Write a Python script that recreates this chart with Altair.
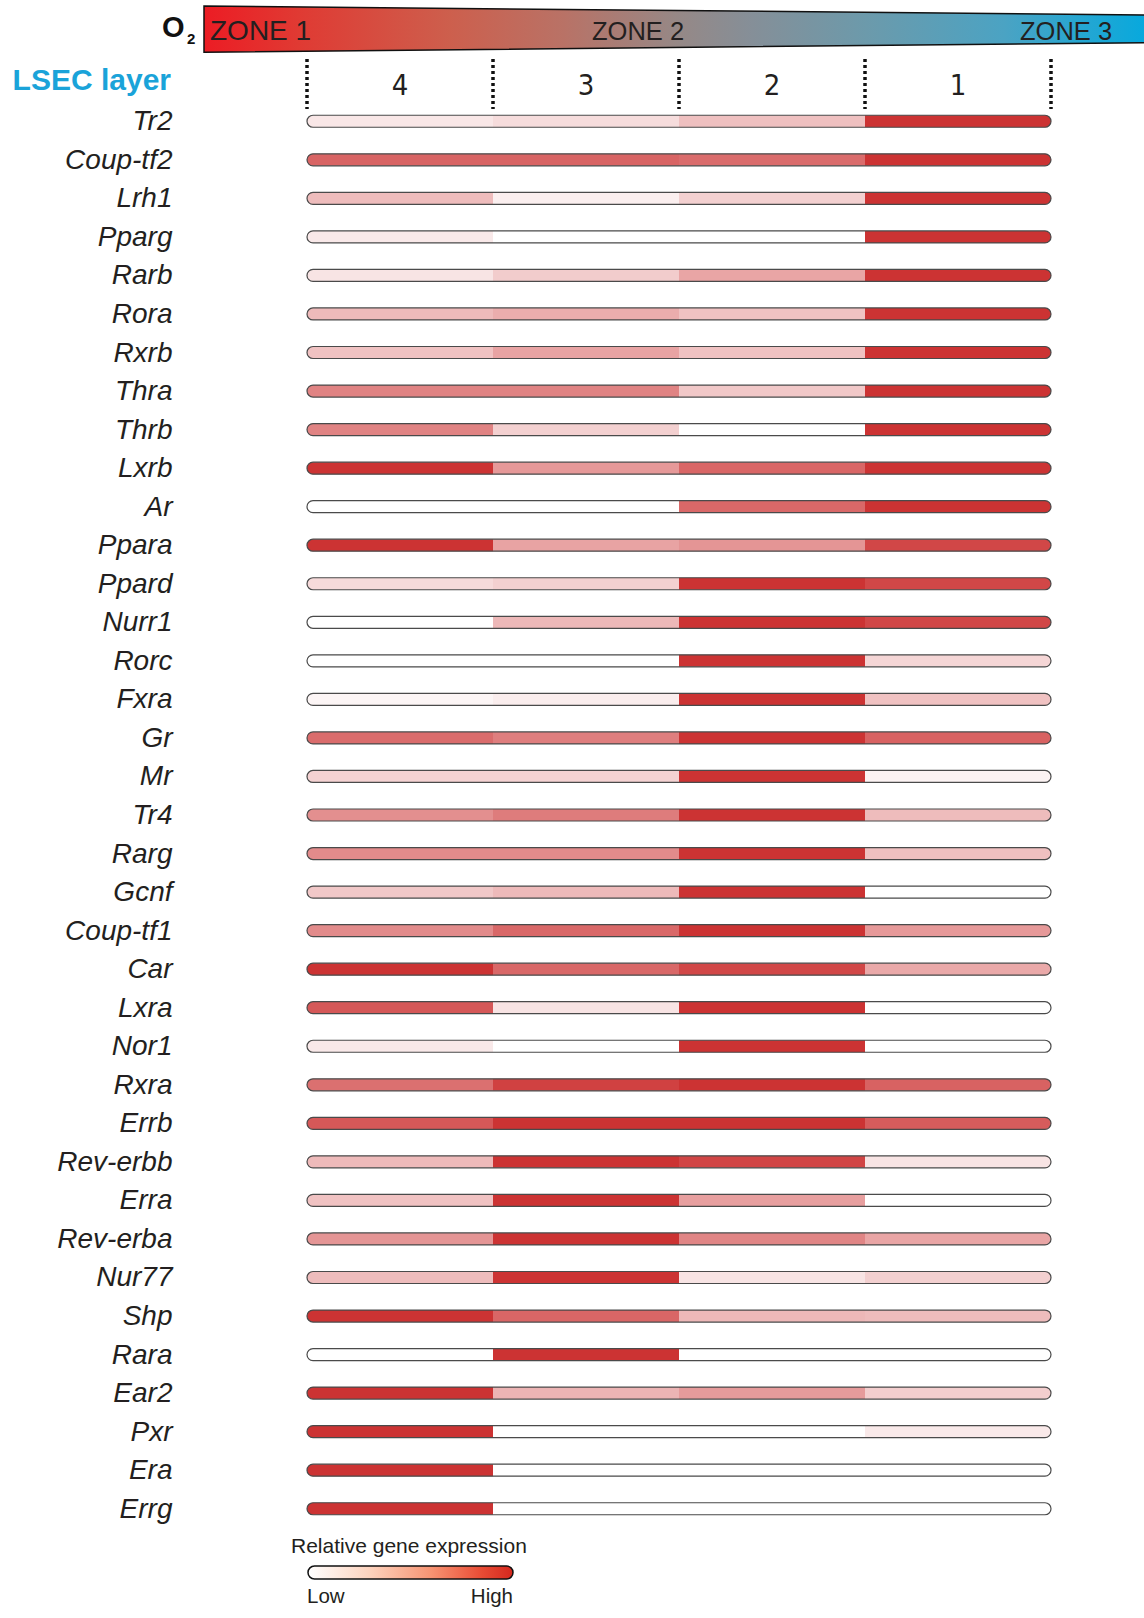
import altair as alt
import pandas as pd

# Nuclear receptor expression across LSEC layers (layer 4 at the portal side, layer 1 central)
genes = ["Tr2", "Coup-tf2", "Lrh1", "Pparg", "Rarb", "Rora", "Rxrb", "Thra", "Thrb",
         "Lxrb", "Ar", "Ppara", "Ppard", "Nurr1", "Rorc", "Fxra", "Gr", "Mr", "Tr4",
         "Rarg", "Gcnf", "Coup-tf1", "Car", "Lxra", "Nor1", "Rxra", "Errb", "Rev-erbb",
         "Erra", "Rev-erba", "Nur77", "Shp", "Rara", "Ear2", "Pxr", "Era", "Errg"]

layers = ["4", "3", "2", "1"]

# relative expression (0 = low, 1 = high) per layer, same order as genes
layer4 = [0.12, 0.76, 0.33, 0.11, 0.13, 0.34, 0.30, 0.61, 0.61, 1.00, 0.00, 1.00, 0.18,
          0.00, 0.00, 0.05, 0.72, 0.22, 0.55, 0.57, 0.27, 0.57, 1.00, 0.82, 0.11, 0.70,
          0.82, 0.34, 0.30, 0.52, 0.33, 1.00, 0.00, 1.00, 1.00, 1.00, 1.00]
layer3 = [0.17, 0.76, 0.08, 0.00, 0.25, 0.40, 0.45, 0.61, 0.23, 0.50, 0.00, 0.45, 0.23,
          0.35, 0.00, 0.09, 0.63, 0.22, 0.64, 0.57, 0.34, 0.74, 0.74, 0.13, 0.00, 0.93,
          1.00, 1.00, 1.00, 1.00, 1.00, 0.75, 1.00, 0.37, 0.00, 0.00, 0.00]
layer2 = [0.31, 0.72, 0.23, 0.00, 0.44, 0.30, 0.30, 0.27, 0.00, 0.75, 0.74, 0.52, 1.00,
          1.00, 1.00, 1.00, 1.00, 1.00, 1.00, 1.00, 1.00, 1.00, 0.90, 1.00, 1.00, 1.00,
          1.00, 0.91, 0.47, 0.60, 0.13, 0.35, 0.00, 0.49, 0.00, 0.00, 0.00]
layer1 = [1.00, 1.00, 1.00, 1.00, 1.00, 1.00, 1.00, 1.00, 1.00, 1.00, 1.00, 0.90, 0.90,
          0.90, 0.20, 0.30, 0.77, 0.06, 0.33, 0.31, 0.00, 0.50, 0.42, 0.00, 0.00, 0.77,
          0.80, 0.13, 0.00, 0.44, 0.23, 0.33, 0.00, 0.24, 0.11, 0.00, 0.00]

zone_labels = ["ZONE 1", "ZONE 2", "ZONE 3"]

# ---- tables ---------------------------------------------------------------
rows = []
for i, g in enumerate(genes):
    for j, vals in enumerate([layer4, layer3, layer2, layer1]):
        rows.append({"gene": g, "layer": layers[j], "start": j, "end": j + 1,
                     "value": vals[i]})
cells = pd.DataFrame(rows)
frames = pd.DataFrame({"gene": genes, "start": 0, "end": len(layers)})
heads = pd.DataFrame({"layer": layers, "center": [j + 0.5 for j in range(len(layers))]})
bounds = pd.DataFrame({"b": list(range(len(layers) + 1))})
one = pd.DataFrame({"k": [0]})

FONT = "Liberation Sans"
INK = "#231F20"
BAR = 12

x_scale = alt.Scale(domain=[0, len(layers)], nice=False, zero=False)
gene_axis = alt.Axis(title=None, domain=False, ticks=False, labelPadding=135,
                     labelFont=FONT, labelFontStyle="italic", labelFontSize=28,
                     labelColor=INK, labelOffset=1, labelLimit=300)
y_enc = alt.Y("gene:N", sort=genes,
              scale=alt.Scale(domain=genes, paddingInner=0, paddingOuter=0),
              axis=gene_axis)
color_enc = alt.Color("value:Q",
                      scale=alt.Scale(domain=[0, 1], range=["#FFFFFF", "#CC3333"],
                                      interpolate="rgb"),
                      legend=None)


def segs(filter_expr, **corner):
    return (alt.Chart(cells)
            .transform_filter(filter_expr)
            .mark_bar(size=BAR, **corner)
            .encode(x=alt.X("start:Q", scale=x_scale, axis=None),
                    x2="end:Q", y=y_enc, color=color_enc))


inner = segs("datum.start > 0 && datum.end < 4")
first = segs("datum.start == 0", cornerRadiusTopLeft=6, cornerRadiusBottomLeft=6)
last = segs("datum.end == 4", cornerRadiusTopRight=6, cornerRadiusBottomRight=6)

outline = (alt.Chart(frames)
           .mark_bar(size=BAR, cornerRadius=6, fillOpacity=0, stroke="#4a4a4a",
                     strokeWidth=1.2)
           .encode(x=alt.X("start:Q", scale=x_scale, axis=None), x2="end:Q", y=y_enc))

# layer numbers and dotted separators
head_text = (alt.Chart(heads)
             .mark_text(font="Liberation Sans Narrow, DejaVu Sans Condensed, Liberation Sans",
                        fontSize=29, baseline="alphabetic", align="center", color=INK)
             .encode(x=alt.X("center:Q", scale=x_scale, axis=None), y=alt.value(-7),
                     text="layer:N"))
dots = (alt.Chart(bounds)
        .mark_rule(strokeDash=[3, 3], strokeWidth=3.5, color="#111111")
        .encode(x=alt.X("b:Q", scale=x_scale, axis=None),
                y=alt.value(-43), y2=alt.value(7)))

# oxygen gradient wedge
o2_grad = alt.Gradient(
    gradient="linear", x1=0, x2=1, y1=0, y2=0,
    stops=[alt.GradientStop(color="#EC1C24", offset=0.0),
           alt.GradientStop(color="#E03A33", offset=0.10),
           alt.GradientStop(color="#CD5F4D", offset=0.26),
           alt.GradientStop(color="#B97266", offset=0.38),
           alt.GradientStop(color="#968886", offset=0.50),
           alt.GradientStop(color="#858F98", offset=0.58),
           alt.GradientStop(color="#6C9AAB", offset=0.70),
           alt.GradientStop(color="#4BA3C3", offset=0.845),
           alt.GradientStop(color="#05A9DE", offset=1.0)])
wedge_path = "M -1 -0.0486 L 1 -0.0295 L 1 0.0288 L -1 0.0493 Z"
wedge = (alt.Chart(one)
         .mark_point(shape=wedge_path, size=946 ** 2, filled=True, fill=o2_grad,
                     stroke="#111111", strokeWidth=1.5, opacity=1, fillOpacity=1,
                     strokeOpacity=1)
         .encode(x=alt.value(370), y=alt.value(-73)))


def label(text, x, y, size, align="left", weight="normal", color=INK, font=FONT):
    return (alt.Chart(one)
            .mark_text(text=text, align=align, baseline="alphabetic", fontSize=size,
                       fontWeight=weight, font=font, color=color)
            .encode(x=alt.value(x), y=alt.value(y)))


zone_texts = [label(zone_labels[0], -97, -62, 28),
              label(zone_labels[1], 285, -62, 25.5),
              label(zone_labels[2], 713, -62, 25.5)]
o2_text = [label("O", -145, -65, 29, weight="bold", color="#111111"),
           label("2", -120, -58, 15, weight="bold", color="#111111")]
lsec = label("LSEC layer", -136, -12, 30, align="right", weight="bold", color="#1AA3D9")

# colour key
key_grad = alt.Gradient(
    gradient="linear", x1=0, x2=1, y1=0, y2=0,
    stops=[alt.GradientStop(color="#FFFFFF", offset=0.0),
           alt.GradientStop(color="#FDD3BE", offset=0.30),
           alt.GradientStop(color="#F79473", offset=0.60),
           alt.GradientStop(color="#E84B34", offset=0.85),
           alt.GradientStop(color="#D5281E", offset=1.0)])
key_bar = (alt.Chart(one)
           .mark_rect(cornerRadius=6.5, fill=key_grad, stroke="#111111", strokeWidth=1.5)
           .encode(x=alt.value(1), x2=alt.value(206), y=alt.value(1464), y2=alt.value(1477)))
key_texts = [label("Relative gene expression", -16, 1451, 21),
             label("Low", 0, 1501, 20.5),
             label("High", 206, 1501, 20.5, align="right")]

chart = (alt.layer(inner, first, last, outline, head_text, dots, wedge,
                   *zone_texts, *o2_text, lsec, key_bar, *key_texts)
         .properties(width=744, height=1426,
                     padding={"left": 307, "top": 102, "right": 93, "bottom": 90},
                     autosize=alt.AutoSizeParams(type="none"))
         .configure_view(stroke=None))

chart.save("out.html", embed_options={"renderer": "svg", "actions": False})
